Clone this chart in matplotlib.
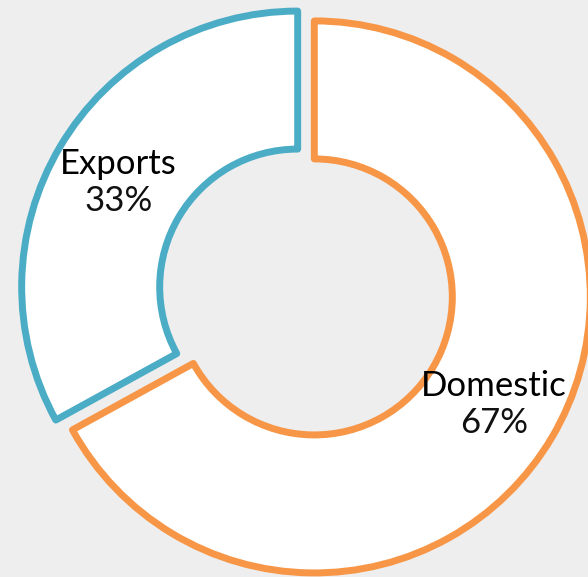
import numpy as np
import matplotlib
matplotlib.use("Agg")
import matplotlib.pyplot as plt

labels = ["Exports", "Domestic"]
shares = [33, 67]
colors = ["#4bacc6", "#f79646"]

dpi = 100
fig = plt.figure(figsize=(588 / dpi, 577 / dpi), dpi=dpi)
fig.patch.set_facecolor("#eeeeee")
ax = fig.add_axes([0, 0, 1, 1])
ax.set_facecolor("#eeeeee")

wedges, _ = ax.pie(shares, startangle=90, counterclock=True,
                   explode=[0.035, 0.035], radius=1.0,
                   colors=["white", "white"],
                   wedgeprops=dict(width=0.5, linewidth=5, joinstyle="round"))
for w, c in zip(wedges, colors):
    w.set_facecolor("white")
    w.set_edgecolor(c)

# labels along each wedge's bisector
start = 90.0
total = sum(shares)
for lab, val in zip(labels, shares):
    span = 360.0 * val / total
    mid = np.deg2rad(start + span / 2)
    r = 0.79
    ax.text(r * np.cos(mid), r * np.sin(mid) + 0.005, lab, ha="center", va="bottom",
            fontsize=25, family="Lato", color="black")
    ax.text(r * np.cos(mid), r * np.sin(mid) - 0.015, f"{val}%", ha="center", va="top",
            fontsize=25, family="Lato", color="#111111")
    start += span

ax.set_xlim(-306 / 276, (588 - 306) / 276)
ax.set_ylim(-(577 - 292) / 276, 292 / 276)
ax.set_aspect("equal")
ax.axis("off")

fig.savefig("out.png", dpi=dpi, facecolor=fig.get_facecolor())
